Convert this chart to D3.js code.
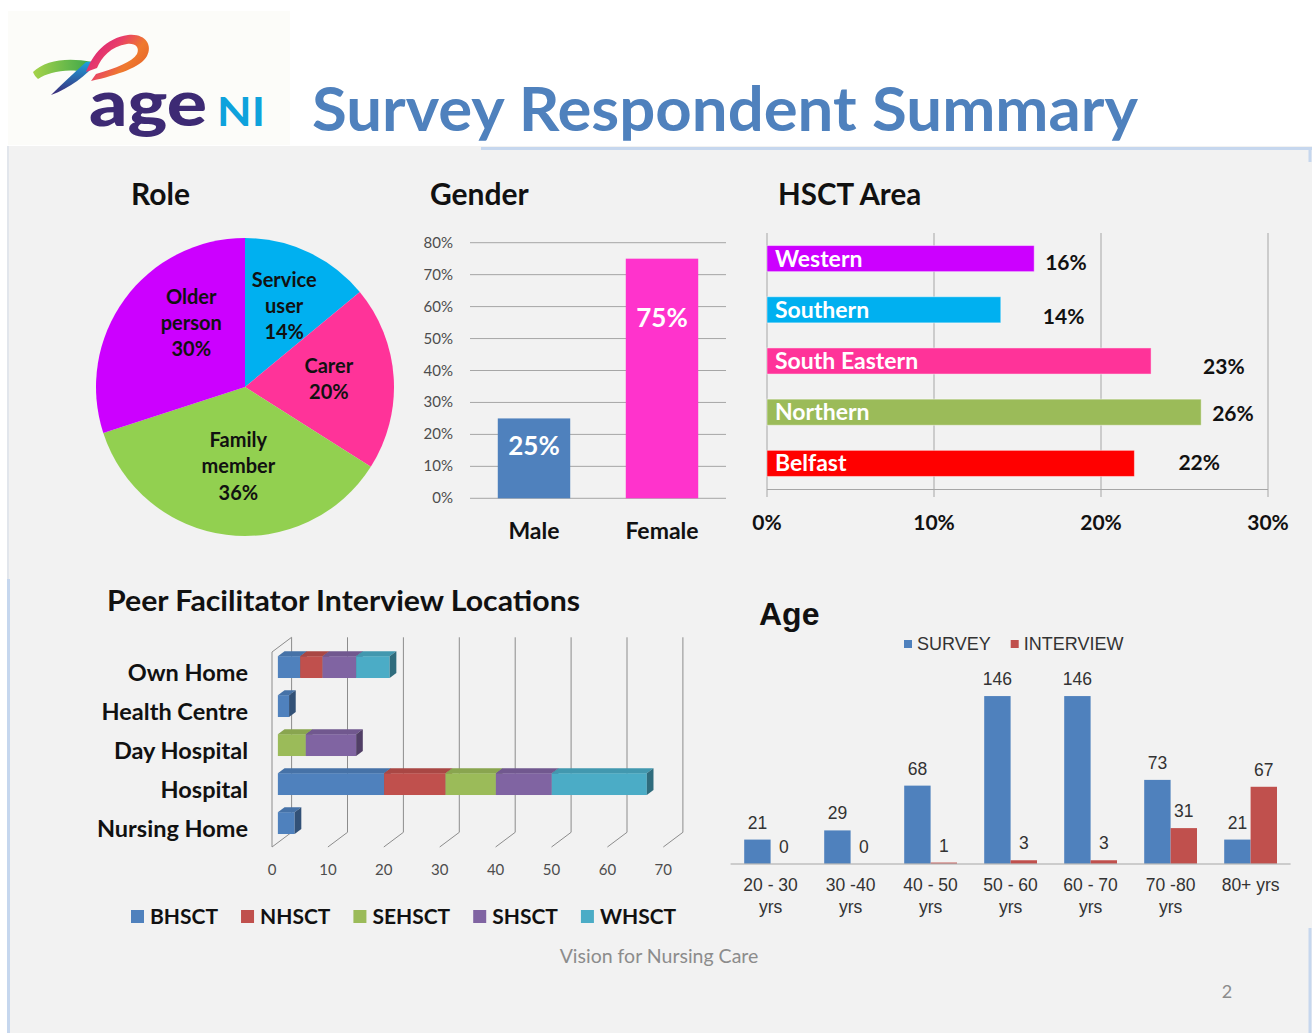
<!DOCTYPE html>
<html>
<head>
<meta charset="utf-8">
<script src="https://cdn.jsdelivr.net/npm/d3@7"></script>
<style>
  body { margin: 0; background: #fff; }
  svg { display: block; }
  .cal { font-family: Lato, "Open Sans", sans-serif; }
  .ar { font-family: "Liberation Sans", Arial, sans-serif; }
</style>
</head>
<body>
<svg id="chart" width="1312" height="1033"></svg>
<script>
// ---- data ----
const roleLabels = ["Service user", "Carer", "Family member", "Older person"];
const roleValues = [14, 20, 36, 30];
const roleColors = ["#00b0f0", "#ff3399", "#92d050", "#cc00ff"];

const genderCats = ["Male", "Female"];
const genderValues = [25, 75];
const genderTicks = [0, 10, 20, 30, 40, 50, 60, 70, 80];
const genderColors = ["#4f81bd", "#ff33cc"];

const hsctAreas = ["Western", "Southern", "South Eastern", "Northern", "Belfast"];
const hsctValues = [16, 14, 23, 26, 22];
const hsctTicks = [0, 10, 20, 30];
const hsctColors = ["#cc00ff", "#00b0f0", "#ff3399", "#9bbb59", "#ff0000"];

const locations = ["Own Home", "Health Centre", "Day Hospital", "Hospital", "Nursing Home"];
const trusts = ["BHSCT", "NHSCT", "SEHSCT", "SHSCT", "WHSCT"];
const bhsct = [4, 2, 0, 19, 3];
const nhsct = [4, 0, 0, 11, 0];
const sehsct = [0, 0, 5, 9, 0];
const shsct = [6, 0, 9, 10, 0];
const whsct = [6, 0, 0, 17, 0];
const locTicks = [0, 10, 20, 30, 40, 50, 60, 70];
const trustColors = ["#4f81bd", "#c0504d", "#9bbb59", "#8064a2", "#4bacc6"];

const ageGroups = ["20 - 30\nyrs", "30 -40\nyrs", "40 - 50\nyrs", "50 - 60\nyrs", "60 - 70\nyrs", "70 -80\nyrs", "80+ yrs"];
const survey = [21, 29, 68, 146, 146, 73, 21];
const interview = [0, 0, 1, 3, 3, 31, 67];
const ageSeries = ["SURVEY", "INTERVIEW"];
const ageColors = ["#4f81bd", "#c0504d"];

// hand placed label nudges (Excel manual label positions)
const pieLabelNudge = [[3, -4], [-1, -3], [4, -5], [15, -14]];
const genderLabelDy = [28, 59];
const hsctLabelDx = [11, 42, 52, 11, 44];
const hsctLabelDy = [3, 6, 5, 1, -1];

const svg = d3.select("#chart");

// ---- background / header ----
svg.append("rect").attr("x", 7).attr("y", 146).attr("width", 1305).attr("height", 887).attr("fill", "#f2f2f2");
svg.append("line").attr("x1", 8).attr("x2", 8).attr("y1", 146).attr("y2", 579).attr("stroke", "#e2e6ec").attr("stroke-width", 2);
svg.append("line").attr("x1", 8.5).attr("x2", 8.5).attr("y1", 579).attr("y2", 1033).attr("stroke", "#c6d7ee").attr("stroke-width", 3);
svg.append("line").attr("x1", 481).attr("x2", 1312).attr("y1", 148.5).attr("y2", 148.5).attr("stroke", "#c6d7ee").attr("stroke-width", 3);
svg.append("line").attr("x1", 1310).attr("x2", 1310).attr("y1", 148).attr("y2", 162).attr("stroke", "#c6d7ee").attr("stroke-width", 3);
svg.append("line").attr("x1", 1310).attr("x2", 1310).attr("y1", 928).attr("y2", 1033).attr("stroke", "#c6d7ee").attr("stroke-width", 3);

// logo box
svg.append("rect").attr("x", 8).attr("y", 11).attr("width", 282).attr("height", 134).attr("fill", "#fcfcf9");

const defs = svg.append("defs");
const gGreen = defs.append("linearGradient").attr("id", "gGreen").attr("x1", "0%").attr("x2", "100%");
gGreen.append("stop").attr("offset", "0%").attr("stop-color", "#a6d34a");
gGreen.append("stop").attr("offset", "100%").attr("stop-color", "#3aa64a");
const gBlue = defs.append("linearGradient").attr("id", "gBlue").attr("x1", "0%").attr("y1", "0%").attr("x2", "0%").attr("y2", "100%");
gBlue.append("stop").attr("offset", "0%").attr("stop-color", "#1ba6de");
gBlue.append("stop").attr("offset", "100%").attr("stop-color", "#3b2878");
const gLoop = defs.append("linearGradient").attr("id", "gLoop").attr("x1", "0%").attr("y1", "0%").attr("x2", "100%").attr("y2", "60%");
gLoop.append("stop").attr("offset", "0%").attr("stop-color", "#d4157f");
gLoop.append("stop").attr("offset", "45%").attr("stop-color", "#e83d6a");
gLoop.append("stop").attr("offset", "75%").attr("stop-color", "#ef7a2e");
gLoop.append("stop").attr("offset", "100%").attr("stop-color", "#e8662a");

const logo = svg.append("g");
logo.append("path")
  .attr("d", "M33,72 C45,60 68,57 92,62 L86,72 C66,68 48,72 38,79 C36,77 34,75 33,72 Z")
  .attr("fill", "url(#gGreen)");
logo.append("path")
  .attr("d", "M86,62 L98,61 C86,76 70,88 51,95 C62,84 74,73 86,62 Z")
  .attr("fill", "url(#gBlue)");
logo.append("path")
  .attr("d", "M86,72 C92,55 106,38 128,35 C145,33 153,45 147,56 C141,67 118,75 91,81 L96,74 C116,68 132,62 137,54 C140,47 135,43 127,44 C111,46 101,58 97,68 Z")
  .attr("fill", "url(#gLoop)");
logo.append("text").attr("class", "cal")
  .attr("x", 89).attr("y", 126)
  .attr("textLength", 118).attr("lengthAdjust", "spacingAndGlyphs")
  .attr("font-size", 62).attr("font-weight", 900).attr("fill", "#3d2a74")
  .text("age");
logo.append("text").attr("class", "cal")
  .attr("x", 217).attr("y", 126)
  .attr("textLength", 48).attr("lengthAdjust", "spacingAndGlyphs")
  .attr("font-size", 41).attr("font-weight", 700).attr("fill", "#0ea2dc")
  .text("NI");

svg.append("text").attr("class", "cal")
  .attr("x", 312).attr("y", 131)
  .attr("textLength", 826).attr("lengthAdjust", "spacingAndGlyphs")
  .attr("font-size", 62).attr("font-weight", 700).attr("fill", "#4f81bd")
  .text("Survey Respondent Summary");

// section titles
function title(x, y, txt, size, cls, len) {
  const t = svg.append("text").attr("class", cls || "cal").attr("x", x).attr("y", y)
    .attr("font-size", size).attr("font-weight", 700).attr("fill", "#111").text(txt);
  if (len) t.attr("textLength", len).attr("lengthAdjust", "spacingAndGlyphs");
}
title(131, 205, "Role", 30);
title(430, 205, "Gender", 30);
title(778, 205, "HSCT Area", 29.5);
title(107, 611, "Peer Facilitator Interview Locations", 29, "cal", 473);
title(759, 625, "Age", 32, "ar");

// ---- Role pie ----
const pieG = svg.append("g").attr("transform", "translate(245,387)");
const pie = d3.pie().sort(null).value(d => d);
const arc = d3.arc().innerRadius(0).outerRadius(149);
const labelArc = d3.arc().innerRadius(85).outerRadius(85);
const slices = pie(roleValues);
pieG.selectAll("path.slice").data(slices).join("path")
  .attr("class", "slice").attr("d", arc).attr("fill", (d, i) => roleColors[i]);
slices.forEach((s, i) => {
  const c = labelArc.centroid(s);
  const lines = roleLabels[i].split(" ").concat([roleValues[i] + "%"]);
  const cx = c[0] + pieLabelNudge[i][0], cy = c[1] + pieLabelNudge[i][1];
  const t = pieG.append("text").attr("class", "cal").attr("text-anchor", "middle")
    .attr("font-size", 20).attr("font-weight", 700).attr("fill", "#111");
  lines.forEach((ln, k) => {
    t.append("tspan").attr("x", cx)
      .attr("y", cy + (k - (lines.length - 1) / 2) * 26.3 + 7)
      .text(ln);
  });
});

// ---- Gender bars ----
const gx = d3.scaleBand().domain(genderCats).range([470, 726]).paddingInner(0.434).paddingOuter(0.217);
const gy = d3.scaleLinear().domain([0, 80]).range([498.3, 242.7]);
const genderG = svg.append("g");
genderG.selectAll("line.grid").data(genderTicks).join("line")
  .attr("x1", 470).attr("x2", 726).attr("y1", d => gy(d)).attr("y2", d => gy(d))
  .attr("stroke", "#a6a6a6").attr("stroke-width", 1);
genderG.selectAll("text.tick").data(genderTicks).join("text")
  .attr("class", "cal").attr("x", 453).attr("y", d => gy(d) + 5)
  .attr("text-anchor", "end").attr("font-size", 15).attr("fill", "#4d4d4d")
  .text(d => d + "%");
genderG.selectAll("rect").data(genderValues).join("rect")
  .attr("x", (d, i) => gx(genderCats[i])).attr("width", gx.bandwidth())
  .attr("y", d => gy(d)).attr("height", d => gy(0) - gy(d))
  .attr("fill", (d, i) => genderColors[i]);
genderG.selectAll("text.val").data(genderValues).join("text")
  .attr("class", "cal").attr("x", (d, i) => gx(genderCats[i]) + gx.bandwidth() / 2)
  .attr("y", (d, i) => gy(d) + genderLabelDy[i] + 9)
  .attr("text-anchor", "middle").attr("font-size", 26).attr("font-weight", 700).attr("fill", "#fff")
  .text(d => d + "%");
genderG.selectAll("text.cat").data(genderCats).join("text")
  .attr("class", "cal").attr("x", d => gx(d) + gx.bandwidth() / 2).attr("y", 539)
  .attr("text-anchor", "middle").attr("font-size", 23).attr("font-weight", 700).attr("fill", "#111")
  .text(d => d);

// ---- HSCT Area bars ----
const hx = d3.scaleLinear().domain([0, 30]).range([767, 1268]);
const hy = d3.scaleBand().domain(hsctAreas).range([233, 489]).paddingInner(0.49).paddingOuter(0.245);
const hG = svg.append("g");
hG.selectAll("line.grid").data(hsctTicks).join("line")
  .attr("x1", d => hx(d)).attr("x2", d => hx(d)).attr("y1", 233).attr("y2", 497)
  .attr("stroke", "#a6a6a6");
hG.append("line").attr("x1", 767).attr("x2", 1268).attr("y1", 489.5).attr("y2", 489.5).attr("stroke", "#a6a6a6");
hG.selectAll("text.tick").data(hsctTicks).join("text")
  .attr("class", "cal").attr("x", d => hx(d)).attr("y", 530)
  .attr("text-anchor", "middle").attr("font-size", 21).attr("font-weight", 700).attr("fill", "#111")
  .text(d => d + "%");
hG.selectAll("rect").data(hsctValues).join("rect")
  .attr("x", hx(0)).attr("y", (d, i) => hy(hsctAreas[i]))
  .attr("width", d => hx(d) - hx(0)).attr("height", hy.bandwidth())
  .attr("fill", (d, i) => hsctColors[i]).attr("stroke", "rgba(255,255,255,0.45)");
hG.selectAll("text.name").data(hsctAreas).join("text")
  .attr("class", "cal").attr("x", 775).attr("y", d => hy(d) + hy.bandwidth() / 2 + 8)
  .attr("font-size", 23).attr("font-weight", 700).attr("fill", "#fff")
  .text(d => d);
hG.selectAll("text.val").data(hsctValues).join("text")
  .attr("class", "cal").attr("x", (d, i) => hx(d) + hsctLabelDx[i])
  .attr("y", (d, i) => hy(hsctAreas[i]) + hy.bandwidth() / 2 + hsctLabelDy[i] + 8)
  .attr("font-size", 21).attr("font-weight", 700).attr("fill", "#111")
  .text(d => d + "%");

// ---- Peer facilitator 3D stacked bars ----
const lx = d3.scaleLinear().domain([0, 70]).range([272, 663.3]);
const ly = d3.scaleBand().domain(locations).range([652, 847]).paddingInner(0.44).paddingOuter(0.22);
const depth = [19.6, -14.7];
const f0 = 0.3, f1 = 0.64;
const pG = svg.append("g");
// walls / gridlines
pG.append("path").attr("d", `M${lx(0)},847 L${lx(0)},652 L${lx(0) + depth[0]},${652 + depth[1]}`)
  .attr("fill", "none").attr("stroke", "#8c8c8c");
pG.selectAll("path.grid").data(locTicks).join("path")
  .attr("d", d => {
    const fx = lx(d), bx = fx + depth[0];
    return `M${bx},${652 + depth[1]} L${bx},${847 + depth[1]} L${fx},847`;
  })
  .attr("fill", "none").attr("stroke", "#8c8c8c");
pG.selectAll("text.tick").data(locTicks).join("text")
  .attr("class", "cal").attr("x", d => lx(d)).attr("y", 875)
  .attr("text-anchor", "middle").attr("font-size", 15).attr("fill", "#4d4d4d")
  .text(d => d);
pG.selectAll("text.cat").data(locations).join("text")
  .attr("class", "cal").attr("x", 248).attr("y", d => ly(d) + ly.bandwidth() / 2 + 9)
  .attr("text-anchor", "end").attr("font-size", 23.5).attr("font-weight", 700).attr("fill", "#111")
  .text(d => d);

const rows = locations.map((loc, i) => ({
  loc, BHSCT: bhsct[i], NHSCT: nhsct[i], SEHSCT: sehsct[i], SHSCT: shsct[i], WHSCT: whsct[i]
}));
const stacked = d3.stack().keys(trusts)(rows);
const ddx = (f1 - f0) * depth[0], ddy = (f1 - f0) * depth[1];
const bw = ly.bandwidth();
rows.forEach((row, r) => {
  stacked.forEach((ser, k) => {
    const s = ser[r];
    if (s[1] - s[0] <= 0) return;
    const col = d3.color(trustColors[k]);
    const x0 = lx(s[0]) + f0 * depth[0], x1 = lx(s[1]) + f0 * depth[0];
    const yT = ly(row.loc) + f0 * depth[1], yB = yT + bw;
    pG.append("rect").attr("x", x0).attr("y", yT).attr("width", x1 - x0).attr("height", bw)
      .attr("fill", col.formatHex());
    pG.append("path")
      .attr("d", `M${x0},${yT} L${x1},${yT} L${x1 + ddx},${yT + ddy} L${x0 + ddx},${yT + ddy} Z`)
      .attr("fill", col.darker(0.35).formatHex());
    pG.append("path")
      .attr("d", `M${x1},${yT} L${x1 + ddx},${yT + ddy} L${x1 + ddx},${yB + ddy} L${x1},${yB} Z`)
      .attr("fill", col.darker(1.3).formatHex());
  });
});

// legend
let lgX = 131;
trusts.forEach((t, k) => {
  pG.append("rect").attr("x", lgX).attr("y", 910).attr("width", 13).attr("height", 13).attr("fill", trustColors[k]);
  const txt = pG.append("text").attr("class", "cal").attr("x", lgX + 19).attr("y", 924)
    .attr("font-size", 21).attr("font-weight", 700).attr("fill", "#111").text(t);
  lgX = lgX + 19 + txt.node().getComputedTextLength() + 23;
});

// ---- Age grouped bars ----
const ax = d3.scaleBand().domain(ageGroups).range([730.6, 1290.6]).paddingInner(0.34).paddingOuter(0.17);
const asub = d3.scaleBand().domain(ageSeries).range([0, ax.bandwidth()]);
const ay = d3.scaleLinear().domain([0, 160]).range([863.7, 680]);
const aG = svg.append("g");
const ageRows = ageGroups.map((g, i) => ({ g, vals: [survey[i], interview[i]] }));
ageRows.forEach(row => {
  row.vals.forEach((v, k) => {
    const x = ax(row.g) + asub(ageSeries[k]);
    aG.append("rect").attr("x", x).attr("y", ay(v)).attr("width", asub.bandwidth())
      .attr("height", ay(0) - ay(v)).attr("fill", ageColors[k]);
    aG.append("text").attr("class", "ar").attr("x", x + asub.bandwidth() / 2).attr("y", ay(v) - 11)
      .attr("text-anchor", "middle").attr("font-size", 17.5).attr("fill", "#333").text(v);
  });
});
aG.append("line").attr("x1", 730.6).attr("x2", 1290.6).attr("y1", 864).attr("y2", 864)
  .attr("stroke", "#a6a6a6");
ageGroups.forEach(g => {
  const t = aG.append("text").attr("class", "ar").attr("text-anchor", "middle")
    .attr("font-size", 17.5).attr("fill", "#333");
  g.split("\n").forEach((ln, k) => {
    t.append("tspan").attr("x", ax(g) + ax.bandwidth() / 2).attr("y", 891 + k * 21.5).text(ln);
  });
});
let alX = 904;
ageSeries.forEach((s, k) => {
  aG.append("rect").attr("x", alX).attr("y", 640).attr("width", 8).attr("height", 8).attr("fill", ageColors[k]);
  const t = aG.append("text").attr("class", "ar").attr("x", alX + 13).attr("y", 650)
    .attr("font-size", 18).attr("fill", "#333").text(s);
  alX = alX + 13 + t.node().getComputedTextLength() + 20;
});

// ---- footer ----
svg.append("text").attr("class", "cal").attr("x", 659).attr("y", 963)
  .attr("text-anchor", "middle").attr("font-size", 19.5).attr("fill", "#8c8c8c").text("Vision for Nursing Care");
svg.append("text").attr("class", "cal").attr("x", 1227).attr("y", 998)
  .attr("text-anchor", "middle").attr("font-size", 18).attr("fill", "#8c8c8c").text("2");
</script>
</body>
</html>
